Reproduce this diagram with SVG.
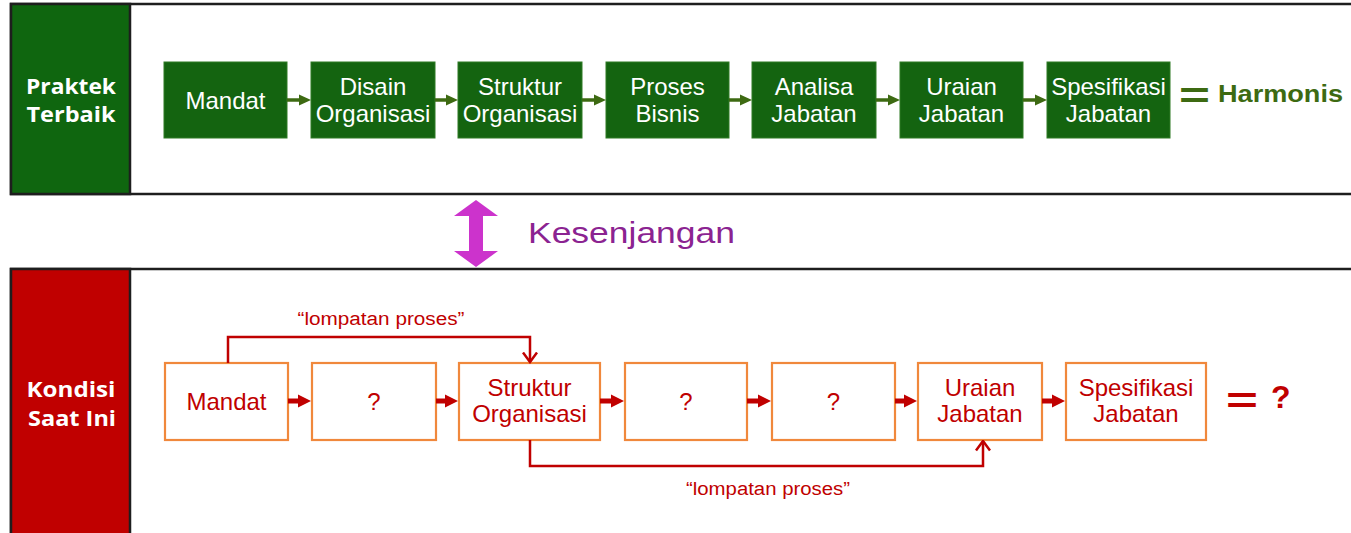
<svg xmlns="http://www.w3.org/2000/svg" width="1351" height="533" viewBox="0 0 1351 533">
  <defs>
    <style>
      .panel { fill: #ffffff; stroke: #1e1e1e; stroke-width: 2.5; }
      .side-green { fill: #0f660f; stroke: #1e1e1e; stroke-width: 2.5; }
      .side-red { fill: #c00000; stroke: #1e1e1e; stroke-width: 2.5; }
      .side-label { font-family: "Open Sans", "Liberation Sans", sans-serif; font-weight: 700; font-size: 21.5px; fill: #ffffff; text-anchor: middle; }
      .gbox { fill: #146410; stroke: #2f7a25; stroke-width: 1; }
      .gtext { font-family: "Liberation Sans", Arial, sans-serif; font-size: 24px; fill: #ffffff; text-anchor: middle; }
      .rbox { fill: #ffffff; stroke: #f0883c; stroke-width: 2.2; }
      .rtext { font-family: "Liberation Sans", Arial, sans-serif; font-size: 24px; fill: #c00000; text-anchor: middle; }
      .garrow { stroke: #3d6a12; stroke-width: 3.5; fill: none; }
      .rarrow { stroke: #c00000; stroke-width: 5; fill: none; }
      .skip { stroke: #c00000; stroke-width: 2.5; fill: none; }
      .skip-label { font-family: "Liberation Sans", Arial, sans-serif; font-size: 18px; fill: #c00000; text-anchor: middle; }
      .eq { font-family: "Liberation Sans", Arial, sans-serif; font-weight: 700; font-size: 37px; }
    </style>
    <marker id="head-green" viewBox="0 0 12 12" refX="6" refY="6" markerWidth="12" markerHeight="12" markerUnits="userSpaceOnUse" orient="auto">
      <path d="M0,0.5 L12,6 L0,11.5 z" fill="#3d6a12"/>
    </marker>
    <marker id="head-red" viewBox="0 0 13 14" refX="7" refY="7" markerWidth="13" markerHeight="14" markerUnits="userSpaceOnUse" orient="auto">
      <path d="M0,0.5 L13,7 L0,13.5 z" fill="#c00000"/>
    </marker>
    <marker id="head-open" viewBox="0 0 12 16" refX="10.5" refY="8" markerWidth="12" markerHeight="16" markerUnits="userSpaceOnUse" orient="auto">
      <path d="M1,1 L10.5,8 L1,15" fill="none" stroke="#c00000" stroke-width="2.5"/>
    </marker>
  </defs>

  <!-- best-practice panel -->
  <g id="panel-best">
    <rect class="panel" x="11" y="4" width="1345" height="190"/>
    <rect class="side-green" x="11" y="4" width="119" height="190"/>
    <text class="side-label" x="71" y="94" textLength="90" lengthAdjust="spacingAndGlyphs">Praktek</text>
    <text class="side-label" x="71" y="122" textLength="89" lengthAdjust="spacingAndGlyphs">Terbaik</text>
  </g>

  <!-- current-condition panel -->
  <g id="panel-current">
    <rect class="panel" x="11" y="269" width="1345" height="270"/>
    <rect class="side-red" x="11" y="269" width="119" height="270"/>
    <text class="side-label" x="71" y="397" textLength="89" lengthAdjust="spacingAndGlyphs">Kondisi</text>
    <text class="side-label" x="72" y="426" textLength="88" lengthAdjust="spacingAndGlyphs">Saat Ini</text>
  </g>

  <!-- ideal chain -->
  <g id="g-mandat"><rect class="gbox" x="164" y="62" width="123" height="76"/><text class="gtext" x="225.5" y="109">Mandat</text></g>
  <g id="g-disain"><rect class="gbox" x="311" y="62" width="124" height="76"/><text class="gtext" x="373" y="95">Disain</text><text class="gtext" x="373" y="122">Organisasi</text></g>
  <g id="g-struktur"><rect class="gbox" x="458" y="62" width="124" height="76"/><text class="gtext" x="520" y="95">Struktur</text><text class="gtext" x="520" y="122">Organisasi</text></g>
  <g id="g-proses"><rect class="gbox" x="606" y="62" width="123" height="76"/><text class="gtext" x="667.5" y="95">Proses</text><text class="gtext" x="667.5" y="122">Bisnis</text></g>
  <g id="g-analisa"><rect class="gbox" x="752" y="62" width="124" height="76"/><text class="gtext" x="814" y="95">Analisa</text><text class="gtext" x="814" y="122">Jabatan</text></g>
  <g id="g-uraian"><rect class="gbox" x="900" y="62" width="123" height="76"/><text class="gtext" x="961.5" y="95">Uraian</text><text class="gtext" x="961.5" y="122">Jabatan</text></g>
  <g id="g-spesifikasi"><rect class="gbox" x="1047" y="62" width="123" height="76"/><text class="gtext" x="1108.5" y="95">Spesifikasi</text><text class="gtext" x="1108.5" y="122">Jabatan</text></g>
  <g id="g-result">
    <text class="eq" x="1179" y="108" fill="#3d6a12" textLength="31" lengthAdjust="spacingAndGlyphs">=</text>
    <text x="1218" y="102" font-family="Liberation Sans, Arial, sans-serif" font-weight="700" font-size="23.5" fill="#3d6a12" textLength="125" lengthAdjust="spacingAndGlyphs">Harmonis</text>
  </g>

  <!-- gap indicator -->
  <g id="gap">
    <polygon points="476,200 498,216 483,216 483,251 498,251 476,267 454,251 469,251 469,216 454,216" fill="#cc33cc"/>
    <text x="528" y="243" font-family="Liberation Sans, Arial, sans-serif" font-size="29" fill="#8b2391" textLength="207" lengthAdjust="spacingAndGlyphs">Kesenjangan</text>
  </g>

  <!-- current chain -->
  <g id="r-mandat"><rect class="rbox" x="165" y="363" width="123" height="77"/><text class="rtext" x="226.5" y="410">Mandat</text></g>
  <g id="r-q1"><rect class="rbox" x="312" y="363" width="124" height="77"/><text class="rtext" x="374" y="410">?</text></g>
  <g id="r-struktur"><rect class="rbox" x="459" y="363" width="141" height="77"/><text class="rtext" x="529.5" y="396">Struktur</text><text class="rtext" x="529.5" y="422">Organisasi</text></g>
  <g id="r-q2"><rect class="rbox" x="625" y="363" width="122" height="77"/><text class="rtext" x="686" y="410">?</text></g>
  <g id="r-q3"><rect class="rbox" x="772" y="363" width="123" height="77"/><text class="rtext" x="833.5" y="410">?</text></g>
  <g id="r-uraian"><rect class="rbox" x="918" y="363" width="124" height="77"/><text class="rtext" x="980" y="396">Uraian</text><text class="rtext" x="980" y="422">Jabatan</text></g>
  <g id="r-spesifikasi"><rect class="rbox" x="1066" y="363" width="140" height="77"/><text class="rtext" x="1136" y="396">Spesifikasi</text><text class="rtext" x="1136" y="422">Jabatan</text></g>
  <g id="r-result">
    <text class="eq" x="1226" y="413" fill="#c00000" textLength="32" lengthAdjust="spacingAndGlyphs">=</text>
    <text x="1271" y="408" font-family="Liberation Sans, Arial, sans-serif" font-weight="700" font-size="32" fill="#c00000">?</text>
  </g>

  <!-- connectors -->
  <g id="connectors">
    <line class="garrow" x1="287" y1="100" x2="305" y2="100" marker-end="url(#head-green)"/>
    <line class="garrow" x1="435" y1="100" x2="452" y2="100" marker-end="url(#head-green)"/>
    <line class="garrow" x1="582" y1="100" x2="600" y2="100" marker-end="url(#head-green)"/>
    <line class="garrow" x1="729" y1="100" x2="746" y2="100" marker-end="url(#head-green)"/>
    <line class="garrow" x1="876" y1="100" x2="894" y2="100" marker-end="url(#head-green)"/>
    <line class="garrow" x1="1023" y1="100" x2="1041" y2="100" marker-end="url(#head-green)"/>

    <line class="rarrow" x1="288" y1="401" x2="305" y2="401" marker-end="url(#head-red)"/>
    <line class="rarrow" x1="436" y1="401" x2="452" y2="401" marker-end="url(#head-red)"/>
    <line class="rarrow" x1="600" y1="401" x2="618" y2="401" marker-end="url(#head-red)"/>
    <line class="rarrow" x1="747" y1="401" x2="765" y2="401" marker-end="url(#head-red)"/>
    <line class="rarrow" x1="895" y1="401" x2="911" y2="401" marker-end="url(#head-red)"/>
    <line class="rarrow" x1="1042" y1="401" x2="1059" y2="401" marker-end="url(#head-red)"/>

    <path class="skip" d="M228,363 V337 H530 V362" marker-end="url(#head-open)"/>
    <path class="skip" d="M530,440 V466 H983 V441" marker-end="url(#head-open)"/>
    <text class="skip-label" x="381" y="325" textLength="167" lengthAdjust="spacingAndGlyphs">“lompatan proses”</text>
    <text class="skip-label" x="768" y="495" textLength="164" lengthAdjust="spacingAndGlyphs">“lompatan proses”</text>
  </g>
</svg>
